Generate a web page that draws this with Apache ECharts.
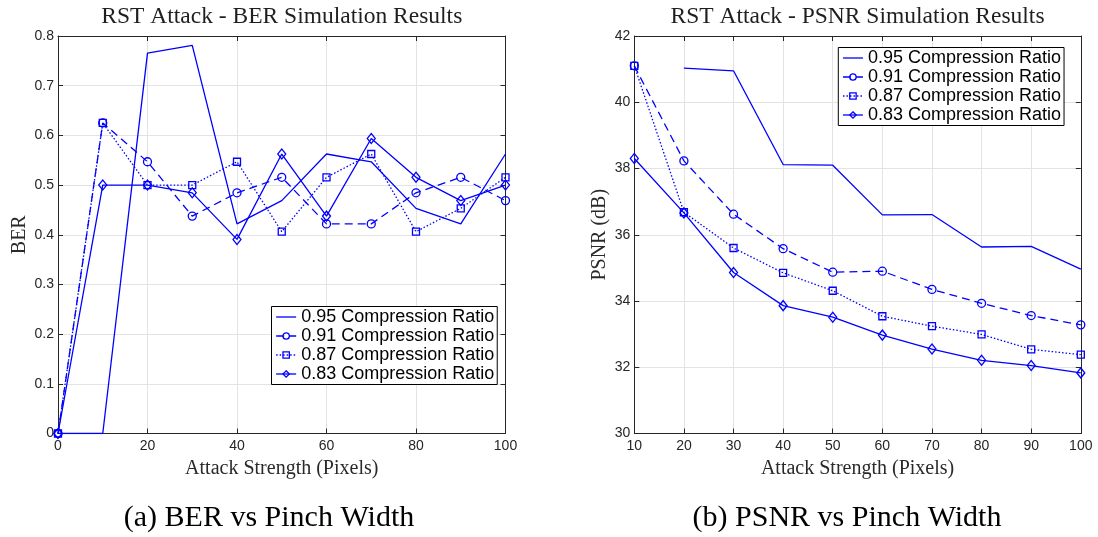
<!DOCTYPE html>
<html>
<head>
<meta charset="utf-8">
<script src="https://cdn.jsdelivr.net/npm/echarts@6/dist/echarts.min.js"></script>
<style>
  html, body { margin: 0; padding: 0; background: #fff; }
  #chart { width: 1098px; height: 537px; }
</style>
</head>
<body>
<div id="chart"></div>
<script>
// ---- data ----
const seriesNames = ['0.95 Compression Ratio', '0.91 Compression Ratio', '0.87 Compression Ratio', '0.83 Compression Ratio'];

// BER vs attack strength
const berX = [0, 10, 20, 30, 40, 50, 60, 70, 80, 90, 100];
const ber095 = [0, 0, 0.765625, 0.78125, 0.421875, 0.46875, 0.5625, 0.546875, 0.453125, 0.421875, 0.5625];
const ber091 = [0, 0.625, 0.546875, 0.4375, 0.484375, 0.515625, 0.421875, 0.421875, 0.484375, 0.515625, 0.46875];
const ber087 = [0, 0.625, 0.5, 0.5, 0.546875, 0.40625, 0.515625, 0.5625, 0.40625, 0.453125, 0.515625];
const ber083 = [0, 0.5, 0.5, 0.484375, 0.390625, 0.5625, 0.4375, 0.59375, 0.515625, 0.46875, 0.5];

// PSNR vs attack strength (dB)
const psnrX = [10, 20, 30, 40, 50, 60, 70, 80, 90, 100];
const psnr095 = [null, 41.03, 40.95, 38.12, 38.10, 36.60, 36.61, 35.63, 35.65, 34.96];
const psnr091 = [41.10, 38.23, 36.62, 35.58, 34.87, 34.90, 34.35, 33.93, 33.56, 33.28];
const psnr087 = [41.10, 36.68, 35.60, 34.85, 34.31, 33.54, 33.24, 32.99, 32.54, 32.38];
const psnr083 = [38.30, 36.66, 34.86, 33.86, 33.51, 32.97, 32.55, 32.21, 32.05, 31.83];

// axis ticks
const berXTicks = { min: 0, max: 100, interval: 20 };
const berYTicks = { min: 0, max: 0.8, interval: 0.1 };
const psnrXTicks = { min: 10, max: 100, interval: 10 };
const psnrYTicks = { min: 30, max: 42, interval: 2 };

// ---- styling ----
const BLUE = '#0000ff';
const AXIS = '#262626';
const GRIDLINE = '#e3e3e3';
const SERIF = "'Liberation Serif', 'DejaVu Serif', serif";
const SANS = "'Liberation Sans', Arial, sans-serif";

// line type / marker per compression ratio
const looks = [
  { type: 'solid', symbol: 'circle', size: 0, showSymbol: false },
  { type: [8, 5], symbol: 'circle', size: 8, showSymbol: true },
  { type: [1.5, 2], symbol: 'rect', size: 7, showSymbol: true },
  { type: 'solid', symbol: 'diamond', size: [8, 10], showSymbol: true }
];

const grids = [
  { left: 58, top: 36, width: 447.5, height: 397.5 },
  { left: 634.3, top: 36, width: 446.5, height: 397.5 }
];

function pairs(xs, ys) {
  return xs.map((x, i) => [x, ys[i]]);
}

function markerStyle(lk) {
  return { color: 'transparent', borderColor: BLUE, borderWidth: lk.showSymbol ? 1.3 : 0 };
}

function buildSeries(gridIdx, xs, ysList) {
  return ysList.map((ys, k) => {
    const lk = looks[k];
    return {
      name: seriesNames[k],
      type: 'line',
      xAxisIndex: gridIdx * 2,
      yAxisIndex: gridIdx * 2,
      data: pairs(xs, ys),
      symbol: lk.symbol,
      symbolSize: lk.size,
      showSymbol: lk.showSymbol,
      connectNulls: false,
      animation: false,
      silent: true,
      z: 10 - k,
      lineStyle: { color: BLUE, width: 1.3, type: lk.type, cap: 'butt' },
      itemStyle: markerStyle(lk),
      emphasis: { disabled: true }
    };
  });
}

function xAxes(gridIdx, ticks, name) {
  return [
    {
      type: 'value', gridIndex: gridIdx, position: 'bottom',
      min: ticks.min, max: ticks.max, interval: ticks.interval,
      name: name, nameLocation: 'middle', nameGap: 18,
      nameTextStyle: { fontFamily: SERIF, fontSize: 20, color: '#2a2a2a', verticalAlign: 'top' },
      axisLine: { show: true, onZero: false, lineStyle: { color: AXIS, width: 1 } },
      axisTick: { show: true, inside: true, length: 5, lineStyle: { color: AXIS } },
      axisLabel: { show: true, margin: 6, fontFamily: SANS, fontSize: 14, color: AXIS, showMinLabel: true, showMaxLabel: true, hideOverlap: false },
      splitLine: { show: true, lineStyle: { color: GRIDLINE, width: 1 } }
    },
    {
      type: 'value', gridIndex: gridIdx, position: 'top',
      min: ticks.min, max: ticks.max, interval: ticks.interval,
      axisLine: { show: true, onZero: false, lineStyle: { color: AXIS, width: 1 } },
      axisTick: { show: true, inside: true, length: 5, lineStyle: { color: AXIS } },
      axisLabel: { show: false },
      splitLine: { show: false }
    }
  ];
}

function yAxes(gridIdx, ticks, name, gap) {
  return [
    {
      type: 'value', gridIndex: gridIdx, position: 'left',
      min: ticks.min, max: ticks.max, interval: ticks.interval,
      name: name, nameLocation: 'middle', nameGap: gap, nameRotate: 90,
      nameTextStyle: { fontFamily: SERIF, fontSize: 20, color: '#2a2a2a' },
      axisLine: { show: true, onZero: false, lineStyle: { color: AXIS, width: 1 } },
      axisTick: { show: true, inside: true, length: 5, lineStyle: { color: AXIS } },
      axisLabel: { show: true, margin: 4, fontFamily: SANS, fontSize: 14, color: AXIS, showMinLabel: true, showMaxLabel: true, hideOverlap: false },
      splitLine: { show: true, lineStyle: { color: GRIDLINE, width: 1 } }
    },
    {
      type: 'value', gridIndex: gridIdx, position: 'right',
      min: ticks.min, max: ticks.max, interval: ticks.interval,
      axisLine: { show: true, onZero: false, lineStyle: { color: AXIS, width: 1 } },
      axisTick: { show: true, inside: true, length: 5, lineStyle: { color: AXIS } },
      axisLabel: { show: false },
      splitLine: { show: false }
    }
  ];
}

function legendFor(left, top) {
  return {
    data: seriesNames.map((name, k) => ({
      name: name,
      itemStyle: markerStyle(looks[k]),
      lineStyle: { color: BLUE, width: 1.3, type: looks[k].type }
    })),
    orient: 'vertical',
    left: left, top: top,
    padding: [1, 3, 1, 4],
    itemGap: 0,
    itemWidth: 20,
    itemHeight: 8,
    selectedMode: false,
    backgroundColor: '#fff',
    borderColor: '#000',
    borderWidth: 1,
    borderRadius: 0,
    textStyle: { fontFamily: SANS, fontSize: 18, color: '#000', lineHeight: 19 }
  };
}

const chart = echarts.init(document.getElementById('chart'), null, { renderer: 'canvas' });

const berSeries = buildSeries(0, berX, [ber095, ber091, ber087, ber083]);
const psnrSeries = buildSeries(1, psnrX, [psnr095, psnr091, psnr087, psnr083]);

const option = {
  backgroundColor: '#fff',
  animation: false,
  grid: grids,
  xAxis: [...xAxes(0, berXTicks, 'Attack Strength (Pixels)'), ...xAxes(1, psnrXTicks, 'Attack Strength (Pixels)')],
  yAxis: [...yAxes(0, berYTicks, 'BER', 28), ...yAxes(1, psnrYTicks, 'PSNR (dB)', 25)],
  legend: [legendFor(271.5, 306.5), legendFor(838.3, 47.5)],
  series: [...berSeries, ...psnrSeries],
  graphic: [
    { type: 'text', x: 281.8, y: 17, silent: true,
      style: { text: 'RST Attack - BER Simulation Results', font: "23.5px " + SERIF, fill: '#1f1f1f', textAlign: 'center', textVerticalAlign: 'middle' } },
    { type: 'text', x: 857.5, y: 17, silent: true,
      style: { text: 'RST Attack - PSNR Simulation Results', font: "23.5px " + SERIF, fill: '#1f1f1f', textAlign: 'center', textVerticalAlign: 'middle' } },
    { type: 'text', x: 269, y: 518, silent: true,
      style: { text: '(a) BER vs Pinch Width', font: "30px " + SERIF, fill: '#000', textAlign: 'center', textVerticalAlign: 'middle' } },
    { type: 'text', x: 847, y: 518, silent: true,
      style: { text: '(b) PSNR vs Pinch Width', font: "30px " + SERIF, fill: '#000', textAlign: 'center', textVerticalAlign: 'middle' } }
  ]
};

chart.setOption(option);
</script>
</body>
</html>
